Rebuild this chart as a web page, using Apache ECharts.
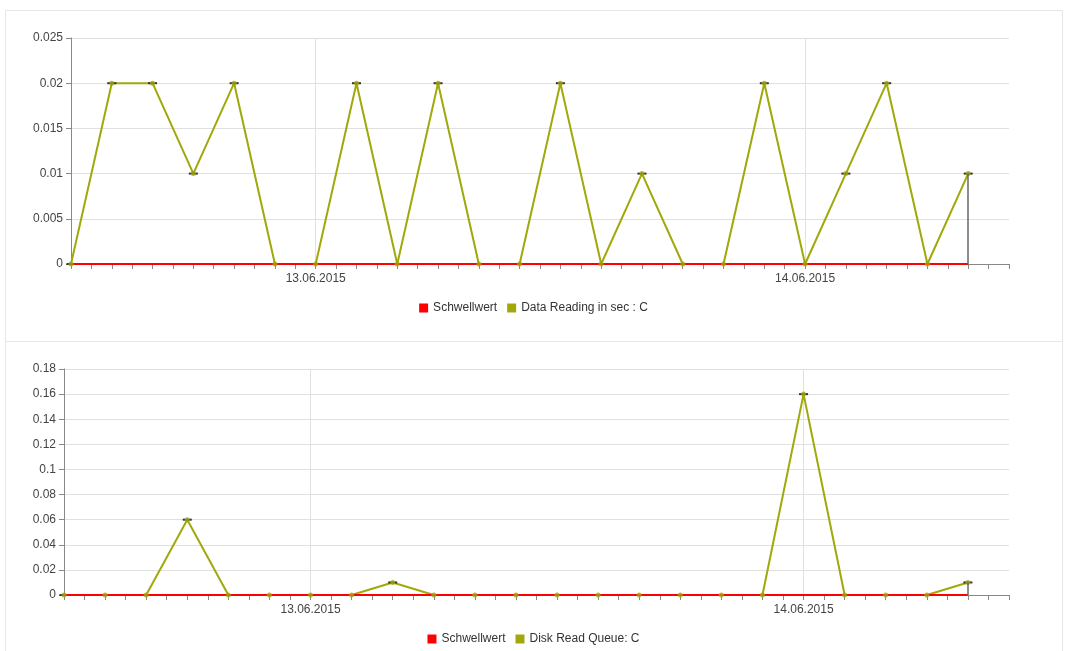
<!DOCTYPE html>
<html><head><meta charset="utf-8">
<script src="https://cdn.jsdelivr.net/npm/echarts@6/dist/echarts.min.js"></script>
<style>html,body{margin:0;padding:0;background:#fff}#c{width:1067px;height:651px}</style>
</head><body><div id="c"></div>
<script>
// sample times (every 2 hours)
const times = ['12.06.2015 12:00','12.06.2015 14:00','12.06.2015 16:00','12.06.2015 18:00','12.06.2015 20:00','12.06.2015 22:00',
  '13.06.2015 00:00','13.06.2015 02:00','13.06.2015 04:00','13.06.2015 06:00','13.06.2015 08:00','13.06.2015 10:00',
  '13.06.2015 12:00','13.06.2015 14:00','13.06.2015 16:00','13.06.2015 18:00','13.06.2015 20:00','13.06.2015 22:00',
  '14.06.2015 00:00','14.06.2015 02:00','14.06.2015 04:00','14.06.2015 06:00','14.06.2015 08:00'];
const dataReading = [0,0.02,0.02,0.01,0.02,0,0,0.02,0,0.02,0,0,0.02,0,0.01,0,0,0.02,0,0.01,0.02,0,0.01];
const diskQueue   = [0,0,0,0.06,0,0,0,0,0.01,0,0,0,0,0,0,0,0,0,0.16,0,0,0,0.01];
const threshold1  = [0,0,0,0,0,0,0,0,0,0,0,0,0,0,0,0,0,0,0,0,0,0,0];
const threshold2  = [0,0,0,0,0,0,0,0,0,0,0,0,0,0,0,0,0,0,0,0,0,0,0];
const axisStart = '12.06.2015 12:00';
const axisHours = 46; // axis runs to 14.06.2015 10:00

function pad(n){return (n<10?'0':'')+n;}
const hourCats = [];
(function(){
  const d0 = new Date(2015,5,12,12,0);
  for(let h=0;h<=axisHours;h++){
    const d = new Date(d0.getTime()+h*3600000);
    hourCats.push(pad(d.getDate())+'.'+pad(d.getMonth()+1)+'.'+d.getFullYear()+' '+pad(d.getHours())+':00');
  }
})();
const isMidnight = (i,v)=> /00:00$/.test(v);
const pairs = (vals)=> vals.map((v,i)=>[times[i],v]);

const olive = '#a0a80a';
const red = '#ff0000';
const dash = 'path://M0,0L10,0L10,2L0,2Z';

function xAxis(idx){
  return {type:'category', gridIndex:idx, data:hourCats, boundaryGap:false,
    axisLine:{lineStyle:{color:'#888'}},
    axisTick:{interval:0, length:5, lineStyle:{color:'#888'}},
    axisLabel:{interval:isMidnight, formatter:v=>v.split(' ')[0], color:'#444', fontSize:12, margin:9, fontFamily:'Liberation Sans'},
    splitLine:{show:true, interval:isMidnight, lineStyle:{color:'#e0e0e0'}}};
}
function yAxis(idx,max,interval){
  return {type:'value', gridIndex:idx, min:0, max:max, interval:interval,
    axisLine:{show:true, lineStyle:{color:'#888'}},
    axisTick:{show:true, length:5, lineStyle:{color:'#888'}},
    axisLabel:{color:'#444', fontSize:12, margin:8, fontFamily:'Liberation Sans'},
    splitLine:{lineStyle:{color:'#e0e0e0'}}};
}
function series(idx, name, vals){
  const last = vals.length-1;
  return [
    {type:'line', name:'Schwellwert', xAxisIndex:idx, yAxisIndex:idx, data:pairs(idx===0?threshold1:threshold2),
     showSymbol:false, lineStyle:{color:red, width:2}, itemStyle:{color:red}, z:3, animation:false},
    {type:'scatter', name:name+'_dots', xAxisIndex:idx, yAxisIndex:idx, data:pairs(vals),
     symbol:'circle', symbolSize:5, itemStyle:{color:olive}, z:4, silent:true, animation:false},
    {type:'line', name:name, xAxisIndex:idx, yAxisIndex:idx, data:pairs(vals),
     symbol:dash, symbolSize:[9,2], showAllSymbol:true,
     lineStyle:{color:olive, width:2}, itemStyle:{color:'#333'}, z:2, animation:false,
     markLine:{silent:true, symbol:'none', label:{show:false}, lineStyle:{color:'#666', width:1.5, type:'solid'},
       data:[[{coord:[times[last],0]},{coord:[times[last],vals[last]]}]]}}
  ];
}

const chart = echarts.init(document.getElementById('c'));
chart.setOption({
  animation:false,
  textStyle:{fontFamily:'Liberation Sans'},
  graphic:[
    {type:'rect', shape:{x:5.5,y:10.5,width:1057,height:331}, style:{fill:'none', stroke:'#e6e6e6', lineWidth:1}, silent:true},
    {type:'rect', shape:{x:5.5,y:341.5,width:1057,height:320}, style:{fill:'none', stroke:'#e6e6e6', lineWidth:1}, silent:true}
  ],
  grid:[
    {left:71, top:38, right:58, height:226},
    {left:64, top:369, right:58, height:226}
  ],
  legend:[
    {top:297, left:'center', icon:'rect', itemWidth:9, itemHeight:9, itemGap:10,
     textStyle:{color:'#333', fontSize:12}, data:[{name:'Schwellwert', itemStyle:{color:red}},{name:'Data Reading in sec : C', itemStyle:{color:olive}}]},
    {top:628, left:'center', icon:'rect', itemWidth:9, itemHeight:9, itemGap:10,
     textStyle:{color:'#333', fontSize:12}, data:[{name:'Schwellwert', itemStyle:{color:red}},{name:'Disk Read Queue: C', itemStyle:{color:olive}}]}
  ],
  xAxis:[xAxis(0), xAxis(1)],
  yAxis:[yAxis(0,0.025,0.005), yAxis(1,0.18,0.02)],
  series:[].concat(series(0,'Data Reading in sec : C',dataReading), series(1,'Disk Read Queue: C',diskQueue))
});
</script></body></html>
